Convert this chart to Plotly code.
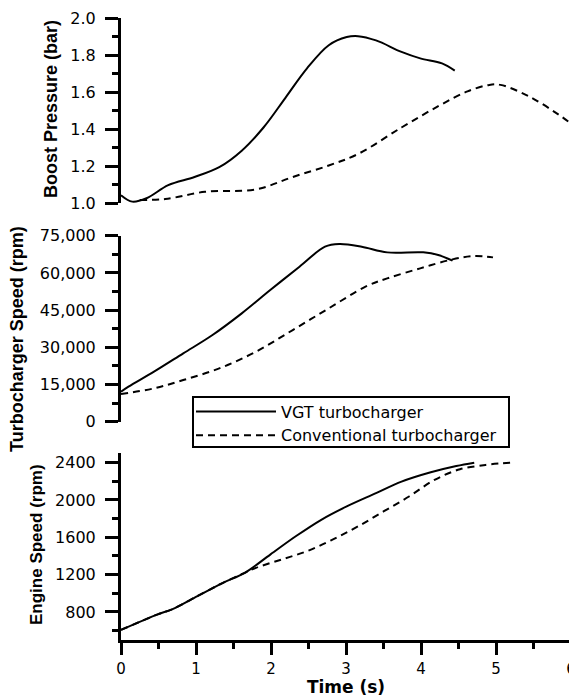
import plotly.graph_objects as go
from plotly.subplots import make_subplots

# ---- Data ----
# Boost pressure (bar)
bp_vgt_t = [0.0, 0.15, 0.34, 0.63, 0.98, 1.31, 1.61, 1.90, 2.19, 2.48, 2.77, 3.01, 3.16, 3.40, 3.74, 3.99, 4.28, 4.45]
bp_vgt_v = [1.044, 1.009, 1.027, 1.098, 1.142, 1.195, 1.284, 1.409, 1.568, 1.728, 1.853, 1.897, 1.902, 1.879, 1.817, 1.782, 1.755, 1.716]
bp_conv_t = [0.25, 0.59, 1.12, 1.80, 2.29, 2.77, 3.16, 3.74, 4.23, 4.62, 4.91, 5.06, 5.44, 5.83, 6.0]
bp_conv_v = [1.018, 1.023, 1.062, 1.075, 1.142, 1.204, 1.266, 1.409, 1.524, 1.604, 1.639, 1.639, 1.577, 1.480, 1.430]

# Turbocharger speed (rpm)
ts_vgt_t = [0.0, 0.1, 0.44, 0.83, 1.22, 1.61, 1.99, 2.38, 2.72, 2.91, 3.21, 3.55, 4.03, 4.23, 4.42]
ts_vgt_v = [12100, 14110, 20160, 27550, 34950, 43680, 53090, 62500, 70560, 71640, 70560, 68280, 68280, 67200, 64920]
ts_conv_t = [0.0, 0.44, 0.83, 1.31, 1.80, 2.29, 2.77, 3.26, 3.55, 3.99, 4.42, 4.71, 4.96]
ts_conv_v = [11160, 13440, 16800, 21500, 28230, 36960, 45700, 54440, 57800, 61830, 65460, 66800, 66260]

# Engine speed (rpm)
es_vgt_t = [0.0, 0.49, 0.68, 1.02, 1.36, 1.65, 1.99, 2.33, 2.67, 3.01, 3.40, 3.74, 4.13, 4.47, 4.71]
es_vgt_v = [608, 775, 828, 971, 1113, 1220, 1415, 1611, 1788, 1931, 2073, 2197, 2297, 2364, 2400]
es_conv_t = [0.0, 0.49, 0.68, 1.02, 1.36, 1.65, 1.80, 2.14, 2.48, 2.82, 3.16, 3.50, 3.84, 4.18, 4.52, 4.86, 5.08, 5.20]
es_conv_v = [608, 775, 828, 971, 1113, 1220, 1273, 1362, 1451, 1575, 1717, 1877, 2037, 2215, 2329, 2375, 2393, 2400]

series_names = ["VGT turbocharger", "Conventional turbocharger"]
x_ticks = [0, 1, 2, 3, 4, 5, 6]
es_ticks = [800, 1200, 1600, 2000, 2400]
es_minor = [600, 1000, 1400, 1800, 2200]

FONT = "Liberation Sans, Arial, sans-serif"
WIDE = "DejaVu Sans, Liberation Sans, sans-serif"
OFF = 8                      # page body margin in the browser
W, H = 577 - OFF, 697 - OFF
L, R = 121 - OFF, 6

fig = make_subplots(rows=3, cols=1, shared_xaxes=False)

solid = dict(color="black", width=2)
dashed = dict(color="black", width=2, dash="7px,5px")

fig.add_trace(go.Scatter(x=bp_vgt_t, y=bp_vgt_v, mode="lines", line=solid, line_shape="spline",
                         name=series_names[0], showlegend=True), row=1, col=1)
fig.add_trace(go.Scatter(x=bp_conv_t, y=bp_conv_v, mode="lines", line=dashed, line_shape="spline",
                         name=series_names[1], showlegend=True), row=1, col=1)
fig.add_trace(go.Scatter(x=ts_vgt_t, y=ts_vgt_v, mode="lines", line=solid, line_shape="spline",
                         name=series_names[0], showlegend=False), row=2, col=1)
fig.add_trace(go.Scatter(x=ts_conv_t, y=ts_conv_v, mode="lines", line=dashed, line_shape="spline",
                         name=series_names[1], showlegend=False), row=2, col=1)
fig.add_trace(go.Scatter(x=es_vgt_t, y=es_vgt_v, mode="lines", line=solid, line_shape="spline",
                         name=series_names[0], showlegend=False), row=3, col=1)
fig.add_trace(go.Scatter(x=es_conv_t, y=es_conv_v, mode="lines", line=dashed, line_shape="spline",
                         name=series_names[1], showlegend=False), row=3, col=1)

def dom(top_px, bot_px):
    return [1 - (bot_px - OFF) / H, 1 - (top_px - OFF) / H]

ytickfont = dict(family=WIDE, size=16, color="black")
xtickfont = dict(family=WIDE, size=15, color="black")
minor_common = dict(ticks="outside", ticklen=6, tickwidth=2.5, tickcolor="black", showgrid=False)
yaxis_common = dict(showline=True, linecolor="black", linewidth=3, ticks="outside", ticklen=13,
                    tickwidth=2.5, tickcolor="black", showgrid=False, zeroline=False,
                    tickfont=ytickfont, automargin=False, ticklabeloverflow="allow",
                    ticklabelstandoff=6)

fig.update_layout(
    yaxis=dict(domain=dom(18, 203.3), range=[1.0, 2.0], dtick=0.2, tick0=1.0, tickformat=".1f",
               minor=dict(dtick=0.1, **minor_common), **yaxis_common),
    yaxis2=dict(domain=dom(235.7, 421.7), range=[0, 75000], dtick=15000, tick0=0, tickformat=",",
                minor=dict(dtick=7500, **minor_common), **yaxis_common),
    yaxis3=dict(domain=dom(453.3, 640), range=[500, 2500], tickmode="array", tickvals=es_ticks,
                minor=dict(tickmode="array", tickvals=es_minor, **minor_common), **yaxis_common),
)

hidden_x = dict(range=[0, 6], showline=False, showticklabels=False, ticks="", showgrid=False,
                zeroline=False, automargin=False)
fig.update_layout(
    xaxis=dict(**hidden_x),
    xaxis2=dict(**hidden_x),
    xaxis3=dict(range=[0, 6], tickmode="array", tickvals=x_ticks, showline=True, linecolor="black",
                linewidth=3, ticks="outside", ticklen=12, tickwidth=2.5, tickcolor="black",
                minor=dict(dtick=0.5, tick0=0, **minor_common),
                showgrid=False, zeroline=False, tickfont=xtickfont, automargin=False,
                ticklabeloverflow="allow", ticklabelstandoff=1,
                title=dict(text="<b>Time (s)</b>", font=dict(family=WIDE, size=17, color="black"), standoff=4)),
)

def px_x(p):
    return (p - OFF - L) / (W - L - R)

def px_y(p):
    return 1 - (p - OFF) / H

for text, xp, yp, fs in [("<b>Boost Pressure (bar)</b>", 51, 109, 18),
                         ("<b>Turbocharger Speed (rpm)</b>", 17, 339, 18),
                         ("<b>Engine Speed (rpm)</b>", 36, 545, 17)]:
    fig.add_annotation(text=text, xref="paper", yref="paper", x=px_x(xp), y=px_y(yp),
                       xanchor="center", yanchor="middle", textangle=-90, showarrow=False,
                       font=dict(family=FONT, size=fs, color="black"))

# legend frame
fig.add_shape(type="rect", xref="paper", yref="paper",
              x0=px_x(193), x1=px_x(509), y0=px_y(447), y1=px_y(397),
              line=dict(color="black", width=2), fillcolor="white", layer="above")

fig.update_layout(
    width=W, height=H,
    margin=dict(l=L, r=R, t=0, b=0),
    paper_bgcolor="white", plot_bgcolor="white",
    showlegend=True,
    legend=dict(x=px_x(191), y=px_y(394.5), xanchor="left", yanchor="top",
                borderwidth=0, bgcolor="rgba(0,0,0,0)",
                font=dict(family=WIDE, size=16, color="black"),
                itemwidth=80, tracegroupgap=0),
)

fig.write_html("out.html")
